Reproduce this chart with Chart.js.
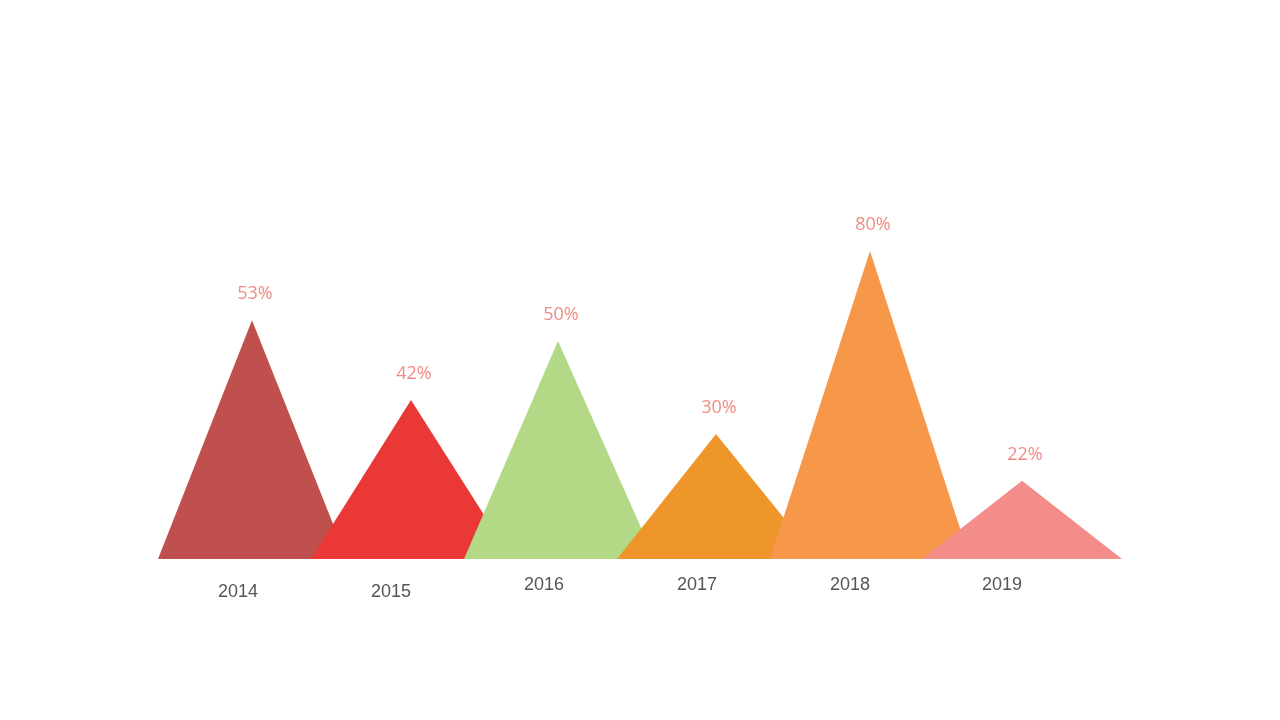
<!DOCTYPE html>
<html>
<head>
<meta charset="utf-8">
<script src="https://cdn.jsdelivr.net/npm/chart.js@4"></script>
<style>
  html, body { margin: 0; padding: 0; background: #fff; }
  #wrap { width: 1280px; height: 720px; }
</style>
</head>
<body>
<div id="wrap"><canvas id="peaks"></canvas></div>
<script>
// years and the percentage shown above each peak
const years = ["2014", "2015", "2016", "2017", "2018", "2019"];
const shares = [53, 42, 50, 30, 80, 22];
// triangle heights as drawn in the picture (same 0-100 scale)
const peakHeights = [62, 41.3, 56.6, 32.5, 80, 20.3];
// base start, peak and base end along the x scale
const baseLeft = [0, 153, 306, 459, 612, 764];
const peakX = [94, 253, 400, 558, 712, 864];
const baseRight = [189, 354, 497, 659, 812, 964];
const colors = ["#c0504d", "#ea3836", "#b3d886", "#ee962a", "#f69749", "#f38d8a"];

const datasets = years.map((y, i) => ({
  label: y,
  data: [
    { x: baseLeft[i], y: 0 },
    { x: peakX[i], y: peakHeights[i] },
    { x: baseRight[i], y: 0 }
  ],
  backgroundColor: colors[i],
  borderWidth: 0,
  pointRadius: 0,
  fill: "origin",
  tension: 0,
  order: years.length - i
}));

// percent above each peak, year below each triangle
const peakLabels = {
  id: "peakLabels",
  afterDatasetsDraw(chart) {
    const { ctx, scales: { x, y } } = chart;
    ctx.save();
    ctx.textAlign = "center";
    ctx.textBaseline = "middle";
    years.forEach((yr, i) => {
      const px = x.getPixelForValue(peakX[i]);
      const py = y.getPixelForValue(peakHeights[i]);
      ctx.fillStyle = "#f28b85";
      ctx.font = "18px 'Open Sans', sans-serif";
      ctx.fillText(shares[i] + "%", px + 3, py - 26);

      const cx = x.getPixelForValue(baseLeft[i]) + 80;
      const by = y.getPixelForValue(0);
      ctx.fillStyle = "#555555";
      ctx.font = "18px 'Liberation Sans', Arial, sans-serif";
      ctx.fillText(yr, cx, by + (i < 2 ? 33 : 26));
    });
    ctx.restore();
  }
};

new Chart(document.getElementById("peaks"), {
  type: "line",
  data: { datasets },
  options: {
    responsive: true,
    maintainAspectRatio: false,
    animation: false,
    layout: { padding: { left: 158, right: 158, top: 174, bottom: 161 } },
    plugins: { legend: { display: false }, tooltip: { enabled: false } },
    scales: {
      x: { type: "linear", min: 0, max: 964, display: false },
      y: { min: 0, max: 100, display: false }
    }
  },
  plugins: [peakLabels]
});
</script>
</body>
</html>
